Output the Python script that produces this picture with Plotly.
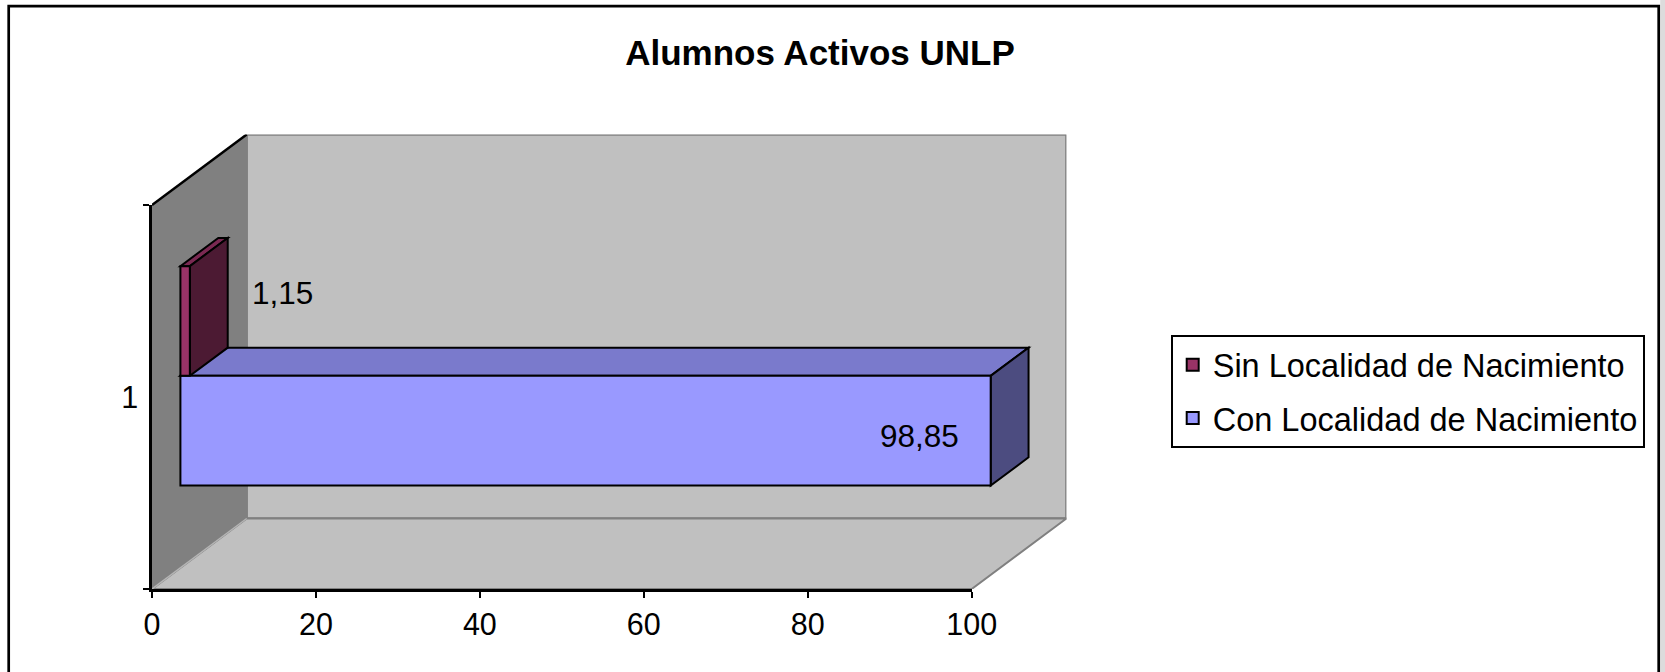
import plotly.graph_objects as go

# ---------------- data ----------------
title_text = "Alumnos Activos UNLP"
categories = ["1"]
series_names = ["Con Localidad de Nacimiento", "Sin Localidad de Nacimiento"]
series_values = [98.85, 1.15]
series_colors = ["#9999FF", "#993366"]
x_ticks = [0, 20, 40, 60, 80, 100]

# ---------------- geometry / style ----------------
W, H = 1665, 672
FONT = "Liberation Sans, Arial, sans-serif"
X0, X100 = 152.0, 971.7      # pixel of value 0 and 100 on front axis
YF, YT = 589.0, 205.0        # front floor / front top pixel
DXP, DYP = 94.7, 70.5        # oblique depth offset of the box (pixels)
GAP_WIDTH = 1.5
D_FRONT, D_BACK = 0.3, 0.7   # bar depth inside box

n = len(categories)
xmax = x_ticks[-1]
sx = (X100 - X0) / xmax
sy = (YF - YT) / n
du = DXP / sx
dv = DYP / sy


def proj(v, c, d):
    return v + d * du, c + d * dv


def path(pts):
    return "M" + " L".join(f"{x:.4f},{y:.4f}" for x, y in pts) + " Z"


def shade(hexc, f):
    h = hexc.lstrip("#")
    r, g, b = (int(h[i:i + 2], 16) for i in (0, 2, 4))
    return "#%02X%02X%02X" % (round(r * f), round(g * f), round(b * f))


shapes = []
# walls and floor
back = [proj(0, 0.5, 1), proj(xmax, 0.5, 1), proj(xmax, n + 0.5, 1), proj(0, n + 0.5, 1)]
left = [proj(0, 0.5, 0), proj(0, 0.5, 1), proj(0, n + 0.5, 1), proj(0, n + 0.5, 0)]
floor = [proj(0, 0.5, 0), proj(xmax, 0.5, 0), proj(xmax, 0.5, 1), proj(0, 0.5, 1)]
shapes.append(dict(type="path", xref="x", yref="y", layer="below", path=path(back),
                   fillcolor="#C0C0C0", line=dict(color="#808080", width=2.5)))
shapes.append(dict(type="path", xref="x", yref="y", layer="below", path=path(left),
                   fillcolor="#808080", line=dict(width=0)))
shapes.append(dict(type="path", xref="x", yref="y", layer="below", path=path(floor),
                   fillcolor="#C0C0C0", line=dict(color="#808080", width=2)))
a, b = proj(0, 0.5, 0), proj(0, 0.5, 1)
shapes.append(dict(type="line", xref="x", yref="y", layer="below", x0=a[0], y0=a[1], x1=b[0], y1=b[1],
                   line=dict(color="#B4B4B4", width=1.5)))
a, b = proj(0, n + 0.5, 0), proj(0, n + 0.5, 1)
shapes.append(dict(type="line", xref="x", yref="y", layer="below", x0=a[0], y0=a[1], x1=b[0], y1=b[1],
                   line=dict(color="black", width=2.5)))

fig = go.Figure()
w = 1.0 / (len(series_names) + GAP_WIDTH)
annotations = []
for i, (name, val, col) in enumerate(zip(series_names, series_values, series_colors)):
    off = -len(series_names) * w / 2 + i * w
    for k, cat in enumerate(categories):
        c = k + 1
        lo, hi = c + off, c + off + w
        top = [proj(0, hi, D_FRONT), proj(val, hi, D_FRONT), proj(val, hi, D_BACK), proj(0, hi, D_BACK)]
        side = [proj(val, lo, D_FRONT), proj(val, hi, D_FRONT), proj(val, hi, D_BACK), proj(val, lo, D_BACK)]
        shapes.append(dict(type="path", xref="x", yref="y", layer="below", path=path(top),
                           fillcolor=shade(col, 0.8), line=dict(color="black", width=2)))
        shapes.append(dict(type="path", xref="x", yref="y", layer="below", path=path(side),
                           fillcolor=shade(col, 0.5), line=dict(color="black", width=2)))
        label = f"{val:.2f}".replace(".", ",")
        if val > 10:
            px_, py_ = proj(val, (lo + hi) / 2, D_FRONT)
            annotations.append(dict(xref="x", yref="y", x=px_, y=py_, text=label, showarrow=False,
                                    xanchor="right", yanchor="middle", xshift=-30, yshift=-5,
                                    font=dict(family=FONT, size=31.5, color="black")))
        else:
            px_, py_ = proj(val, (lo + hi) / 2, D_BACK)
            annotations.append(dict(xref="x", yref="y", x=px_, y=py_, text=label, showarrow=False,
                                    xanchor="left", yanchor="middle", xshift=22, yshift=0,
                                    font=dict(family=FONT, size=31.5, color="black")))
    fig.add_trace(go.Bar(
        name=name, orientation="h",
        y=[k + 1 + D_FRONT * dv for k in range(n)],
        x=[val] * n, base=[D_FRONT * du] * n,
        width=[w] * n, offset=[off] * n,
        marker=dict(color=col, line=dict(color="black", width=2)),
        xaxis="x", yaxis="y", legendgroup=name, legendrank=len(series_names) - i,
        hoverinfo="skip",
    ))

# invisible trace to define category axis
fig.add_trace(go.Scatter(x=[0] * n, y=categories, xaxis="x2", yaxis="y2", mode="markers",
                         marker=dict(opacity=0), showlegend=False, hoverinfo="skip"))

# outer frame
shapes.append(dict(type="rect", xref="paper", yref="paper", layer="above",
                   x0=8.7 / W, x1=1658.7 / W, y0=1 - 6.2 / H, y1=1 - 690 / H,
                   line=dict(color="black", width=2.7), fillcolor="rgba(0,0,0,0)"))
shapes.append(dict(type="rect", xref="paper", yref="paper", layer="below",
                   x0=1660.2 / W, x1=1.0, y0=0, y1=1, line=dict(width=0), fillcolor="#DCDCDC"))

tickfont = dict(family=FONT, size=30.5, color="black")
fig.update_layout(
    width=W, height=H, autosize=False,
    margin=dict(l=0, r=0, t=0, b=0, pad=0, autoexpand=False),
    paper_bgcolor="white", plot_bgcolor="rgba(0,0,0,0)",
    barmode="overlay", hovermode=False,
    title=dict(text=f"<b>{title_text}</b>", x=820 / W, y=1 - 53 / H, xanchor="center", yanchor="middle",
               font=dict(family=FONT, size=35, color="black")),
    xaxis=dict(domain=[X0 / W, (X0 + (xmax + du) * sx) / W], range=[0, xmax + du], visible=False,
               fixedrange=True, automargin=False),
    yaxis=dict(domain=[1 - YF / H, 1 - (YT - DYP) / H], range=[0.5, n + 0.5 + dv], visible=False,
               fixedrange=True, automargin=False),
    xaxis2=dict(domain=[X0 / W, X100 / W], range=[0, xmax], anchor="y2", tickvals=x_ticks,
                ticks="outside", ticklen=6, tickwidth=2, tickcolor="black", showline=True,
                linecolor="black", linewidth=2.5, showgrid=False, zeroline=False, tickfont=tickfont,
                fixedrange=True, automargin=False, ticklabelstandoff=1),
    yaxis2=dict(domain=[1 - YF / H, 1 - YT / H], anchor="x2", type="category",
                categoryorder="array", categoryarray=categories, range=[-0.5, n - 0.5],
                tickson="boundaries", ticks="outside", ticklen=6, tickwidth=2, tickcolor="black",
                showline=True, linecolor="black", linewidth=2.5, showgrid=False, zeroline=False,
                tickfont=tickfont, fixedrange=True, automargin=False, ticklabelstandoff=5),
    legend=dict(x=1170.7 / W, y=1 - 335 / H, xanchor="left", yanchor="top",
                traceorder="grouped",
                bordercolor="black", borderwidth=2, bgcolor="white", tracegroupgap=8,
                font=dict(family=FONT, size=32.5, color="black")),
    shapes=shapes, annotations=annotations,
)

fig.write_html(
    "out.html",
    config={"displayModeBar": False},
    post_script="document.body.style.margin='0px';document.documentElement.style.overflow='hidden';"
                "document.body.style.overflow='hidden';",
)
